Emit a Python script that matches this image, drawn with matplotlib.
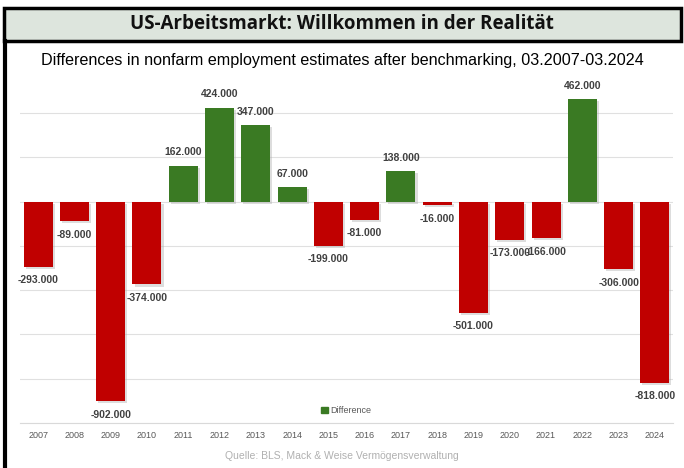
import matplotlib.pyplot as plt
import matplotlib.patches as mpatches
import matplotlib.patheffects as pe
from matplotlib.ticker import MultipleLocator

# data (thousands of jobs)
years = ["2007", "2008", "2009", "2010", "2011", "2012", "2013", "2014", "2015",
         "2016", "2017", "2018", "2019", "2020", "2021", "2022", "2023", "2024"]
diff = [-293, -89, -902, -374, 162, 424, 347, 67, -199,
        -81, 138, -16, -501, -173, -166, 462, -306, -818]

red = "#C00000"
green = "#3A7A23"
narrow = ["Liberation Sans Narrow", "Liberation Sans", "DejaVu Sans"]

fig = plt.figure(figsize=(6.84, 4.68), dpi=100)
W, H = 684, 468

# title box + left border
box = mpatches.Rectangle((4 / W, 1 - 41 / H), 677 / W, 33 / H, transform=fig.transFigure,
                         facecolor="#dde5dd", edgecolor="black", lw=2.5, zorder=0)
fig.patches.append(box)
fig.add_artist(plt.Line2D([4.5 / W, 4.5 / W], [0, 1 - 41 / H], transform=fig.transFigure,
                          color="black", lw=3))
fig.text(0.5, 1 - 24 / H, "US-Arbeitsmarkt: Willkommen in der Realität", ha="center", va="center",
         fontsize=13.5, fontweight="bold", family=["Open Sans", "DejaVu Sans"], color="#111111")
fig.text(0.5, 1 - 60 / H, "Differences in nonfarm employment estimates after benchmarking, 03.2007-03.2024",
         ha="center", va="center", fontsize=11.6, family=["Liberation Sans", "DejaVu Sans"])
fig.text(0.5, 1 - 456 / H, "Quelle: BLS, Mack & Weise Vermögensverwaltung", ha="center", va="center",
         fontsize=7.5, family=["Liberation Sans", "DejaVu Sans"], color="#b0b0b0")

ax = fig.add_axes([20 / W, 1 - 423 / H, 653 / W, 332 / H])
x = list(range(len(years)))
colors = [green if v > 0 else red for v in diff]
vals = [v * 1000 for v in diff]
bars = ax.bar(x, vals, width=0.8, color=colors, zorder=3, label="Difference")
for b in bars:
    b.set_path_effects([pe.SimplePatchShadow(offset=(1.5, -1.5), shadow_rgbFace="#aaaaaa", alpha=0.4),
                        pe.Normal()])

for xi, v in zip(x, diff):
    txt = f"{v:,}".replace(",", ".") + ".000"
    if v > 0:
        ax.annotate(txt, (xi, v * 1000), xytext=(0, 6), textcoords="offset points",
                    ha="center", va="bottom", fontsize=7.5, fontweight="bold",
                    family=narrow, color="#404040")
    else:
        ax.annotate(txt, (xi, v * 1000), xytext=(0, -6), textcoords="offset points",
                    ha="center", va="top", fontsize=7.5, fontweight="bold",
                    family=narrow, color="#404040")

ax.set_xlim(-0.5, len(years) - 0.5)
ax.set_ylim(-1000000, 500000)
ax.yaxis.set_major_locator(MultipleLocator(200000))
ax.grid(axis="y", color="#e0e0e0", lw=0.8, zorder=0)
ax.set_yticklabels([])
ax.tick_params(axis="y", length=0)
ax.set_xticks(x)
ax.set_xticklabels(years, fontsize=6.5, family=narrow, color="#595959")
ax.tick_params(axis="x", length=0, pad=6)
for s in ["top", "right", "left"]:
    ax.spines[s].set_visible(False)
ax.spines["bottom"].set_color("#d9d9d9")
ax.set_axisbelow(True)

handle = mpatches.Patch(color=green, label="Difference")
ax.legend(handles=[handle], loc="lower center", bbox_to_anchor=(0.5, 0.0), frameon=False,
          prop={"family": narrow, "size": 6.5}, handlelength=0.7, handleheight=0.7,
          handletextpad=0.3, labelcolor="#595959")

fig.savefig("out.png", dpi=100)
